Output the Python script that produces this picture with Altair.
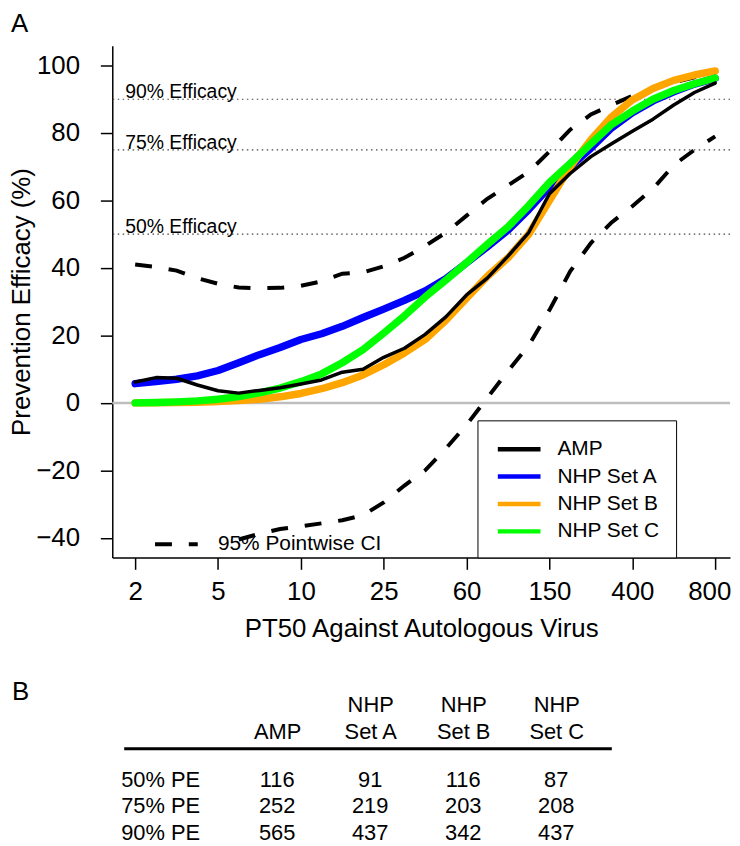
import altair as alt
import pandas as pd

FONT = "Liberation Sans"

# ---------------- data ----------------
PT50 = [2.0, 2.48, 3.07, 3.80, 4.71, 5.83, 7.22, 8.94, 11.08, 13.72, 16.99, 21.05,
        26.07, 32.29, 40.0, 49.54, 61.36, 76.0, 94.14, 116.6, 144.4, 178.9, 221.6,
        274.4, 339.9, 421.0, 521.5, 645.9, 800.0]

AMP = [6.2, 7.5, 7.3, 5.3, 3.6, 2.9, 3.7, 4.5, 5.6, 6.8, 9.1, 10.0, 13.5, 16.2, 20.3,
       25.5, 32.0, 37.0, 43.5, 50.5, 62.0, 68.0, 73.0, 76.8, 80.5, 84.1, 88.3, 92.0, 94.8]
NHP_SET_A = [5.7, 6.3, 7.0, 8.0, 9.6, 11.9, 14.3, 16.4, 18.8, 20.5, 22.7, 25.3, 27.8, 30.4,
             33.2, 36.8, 41.5, 46.3, 51.2, 57.3, 64.0, 70.0, 75.5, 81.5, 86.0, 89.5, 92.2,
             94.5, 96.2]
NHP_SET_B = [0.0, 0.05, 0.1, 0.2, 0.4, 0.7, 1.1, 1.8, 2.8, 4.2, 6.0, 8.3, 11.3, 14.8, 18.8,
             24.5, 31.0, 37.5, 43.0, 50.0, 60.0, 70.0, 78.0, 84.8, 89.8, 93.2, 95.6, 97.2, 98.4]
NHP_SET_C = [0.0, 0.1, 0.3, 0.6, 1.1, 1.9, 3.0, 4.4, 6.3, 8.6, 11.9, 15.8, 20.7, 25.8, 31.4,
             36.4, 41.6, 47.0, 52.2, 58.5, 65.3, 71.0, 76.8, 82.5, 86.5, 90.0, 92.6, 94.6, 96.3]
CI_UPPER = [41.0, 40.3, 39.2, 37.0, 35.3, 34.2, 34.0, 34.1, 34.7, 36.0, 38.3, 38.7, 40.5,
            43.0, 46.5, 50.5, 55.5, 60.5, 64.5, 68.5, 74.5, 81.0, 85.5, 88.3, 91.0, 93.0,
            95.0, 96.5, 97.5]
CI_LOWER = [None, None, None, None, None, -40.5, -38.8, -37.4, -36.6, -35.7, -34.8, -33.3,
            -29.5, -24.5, -20.0, -13.5, -6.5, 1.5, 9.5, 17.0, 27.5, 39.0, 47.4, 53.5, 58.3,
            63.5, 70.5, 75.0, 79.0]

SERIES_NAMES = ["AMP", "NHP Set A", "NHP Set B", "NHP Set C"]
SERIES_COLORS = ["#000000", "#0000FF", "#FFA500", "#00FF00"]
CI_NAME = "95% Pointwise CI"

X_TICKS = [2.0, 4.707, 11.08, 26.07, 61.36, 144.4, 339.9, 800.0]
X_TICK_LABELS = ["2", "5", "10", "25", "60", "150", "400", "800"]
Y_TICKS = [-40, -20, 0, 20, 40, 60, 80, 100]

EFFICACY_LEVELS = [90, 75, 50]
EFFICACY_LABELS = ["90% Efficacy", "75% Efficacy", "50% Efficacy"]

TABLE_ROWS = ["50% PE", "75% PE", "90% PE"]
TABLE_COLS = ["AMP", "NHP Set A", "NHP Set B", "NHP Set C"]
TABLE_VALUES = [[116, 91, 116, 87],
                [252, 219, 203, 208],
                [565, 437, 342, 437]]

# ---------------- tables for the library ----------------
series_values = {"AMP": AMP, "NHP Set A": NHP_SET_A, "NHP Set B": NHP_SET_B, "NHP Set C": NHP_SET_C}
curves = pd.concat(
    [pd.DataFrame({"pt50": PT50, "pe": v, "series": k}) for k, v in series_values.items()],
    ignore_index=True)

ci = pd.concat([
    pd.DataFrame({"pt50": PT50, "pe": CI_UPPER, "bound": "upper"}),
    pd.DataFrame({"pt50": PT50, "pe": CI_LOWER, "bound": "lower"}),
], ignore_index=True).dropna()
ci["ci"] = CI_NAME

eff = pd.DataFrame({"pe": EFFICACY_LEVELS, "label": EFFICACY_LABELS})
zero = pd.DataFrame({"pe": [0]})

table = pd.DataFrame([
    {"row": r, "column": c, "value": str(TABLE_VALUES[i][j])}
    for i, r in enumerate(TABLE_ROWS) for j, c in enumerate(TABLE_COLS)
])
row_labels = pd.DataFrame({"row": TABLE_ROWS})

# ---------------- encodings ----------------
label_expr = " : ".join(
    f"abs(datum.value / {t} - 1) < 0.01 ? '{l}'" for t, l in zip(X_TICKS, X_TICK_LABELS)
) + " : ''"

x_enc = alt.X(
    "pt50:Q",
    scale=alt.Scale(type="log", domain=[1.579, 932.5], nice=False),
    axis=alt.Axis(values=X_TICKS, labelExpr=label_expr, title="PT50 Against Autologous Virus",
                  labelFontSize=26, titleFontSize=26, tickSize=12, labelPadding=9,
                  titlePadding=11.5, labelFlush=False, labelOverlap=False,
                  labelOffset={"condition": {"test": "datum.value > 500", "value": -6},
                               "value": 0}),
)
y_enc = alt.Y(
    "pe:Q",
    scale=alt.Scale(domain=[-45.8, 105.9], nice=False, zero=False),
    axis=alt.Axis(values=Y_TICKS, title="Prevention Efficacy (%)", labelFontSize=26,
                  titleFontSize=26, tickSize=12, labelPadding=21, titlePadding=1,
                  labelOverlap=False),
)

color_enc = alt.Color(
    "series:N",
    scale=alt.Scale(domain=SERIES_NAMES, range=SERIES_COLORS),
    legend=alt.Legend(title=None, orient="none", legendX=367.7, legendY=377.3,
                      strokeColor="black", fillColor="white", padding=16,
                      symbolType="M-2,0L2,0", symbolSize=462, symbolStrokeWidth=4.5,
                      symbolOffset=13, labelOffset=25.5, labelFontSize=21, labelFont=FONT,
                      labelColor="black", rowPadding=4.6),
)

dash_enc = alt.StrokeDash(
    "ci:N",
    scale=alt.Scale(domain=[CI_NAME], range=[[17, 17]]),
    legend=alt.Legend(title=None, orient="none", legendX=40.8, legendY=489, padding=0,
                      symbolType="M-2,0L2,0", symbolSize=462, symbolStrokeWidth=4,
                      symbolStrokeColor="black", symbolOffset=10.75, labelOffset=28.8,
                      labelFontSize=21, labelFont=FONT, labelColor="black", labelLimit=0),
)

# ---------------- panel A ----------------
zero_rule = alt.Chart(zero).mark_rule(color="#BEBEBE", strokeWidth=2.5).encode(y=y_enc)
eff_rules = alt.Chart(eff).mark_rule(color="#444444", strokeWidth=1.2,
                                     strokeDash=[1.5, 3.5]).encode(y=y_enc)
eff_text = alt.Chart(eff).mark_text(align="left", baseline="alphabetic", fontSize=19.5,
                                    font=FONT, color="black", dy=-1).encode(
    x=alt.value(13), y=y_enc, text="label:N")

ci_lines = alt.Chart(ci).mark_line(color="black", strokeWidth=4, clip=True).encode(
    x=x_enc, y=y_enc, detail="bound:N", strokeDash=dash_enc)

draw_order = [("NHP Set A", 7.5), ("NHP Set B", 7.5), ("NHP Set C", 7.5), ("AMP", 3.5)]
curve_layers = [
    alt.Chart(curves).transform_filter(alt.datum.series == name).mark_line(
        strokeWidth=w, strokeCap="round", strokeJoin="round", clip=True).encode(
        x=x_enc, y=y_enc, color=color_enc)
    for name, w in draw_order
]

panel_a = alt.layer(zero_rule, eff_rules, eff_text, ci_lines, *curve_layers).properties(
    width=622, height=515.3,
    title=alt.TitleParams("A", anchor="start", frame="group", dx=-102, dy=-9, fontSize=26,
                          font=FONT, fontWeight="normal", offset=0),
)

# ---------------- panel B (table) ----------------
xb = alt.X("column:N", sort=TABLE_COLS,
           scale=alt.Scale(type="point", padding=0, range=[166, 447]),
           axis=alt.Axis(orient="top", title=None, labelAngle=0, ticks=False,
                         domain=False, labelFontSize=22,
                         labelFont=FONT, labelLineHeight=28, labelPadding=33,
                         labelColor="black",
                         labelExpr="datum.label == 'AMP' ? ['', 'AMP'] : ['NHP', replace(datum.label, 'NHP ', '')]"))
yb = alt.Y("row:N", sort=TABLE_ROWS,
           scale=alt.Scale(type="point", padding=0.759, align=0.756), axis=None)

tbl_values = alt.Chart(table).mark_text(fontSize=22, font=FONT, baseline="middle",
                                        align="center", color="black").encode(
    x=xb, y=yb, text="value:N")
tbl_rows = alt.Chart(row_labels).mark_text(fontSize=22, font=FONT, baseline="middle",
                                           align="left", color="black").encode(
    x=alt.value(9), y=yb, text="row:N")
tbl_rule = alt.Chart(zero).mark_rule(color="black", strokeWidth=3).encode(
    x=alt.value(12), x2=alt.value(503), y=alt.value(0))

panel_b = alt.layer(tbl_rule, tbl_values, tbl_rows).properties(
    width=503, height=95,
    title=alt.TitleParams("B", anchor="start", frame="group", dx=-101, fontSize=26,
                          font=FONT, fontWeight="normal", offset=-11.5),
)

chart = alt.vconcat(panel_a, panel_b, spacing=37).properties(padding=0).configure_view(
    stroke=None
).configure_axis(
    grid=False, domainColor="black", domainWidth=1.5, tickColor="black", tickWidth=1.5,
    labelColor="black", titleColor="black", labelFont=FONT, titleFont=FONT,
    titleFontWeight="normal",
).configure_title(color="black")

chart.save("out.html", embed_options={"renderer": "svg", "actions": False})
